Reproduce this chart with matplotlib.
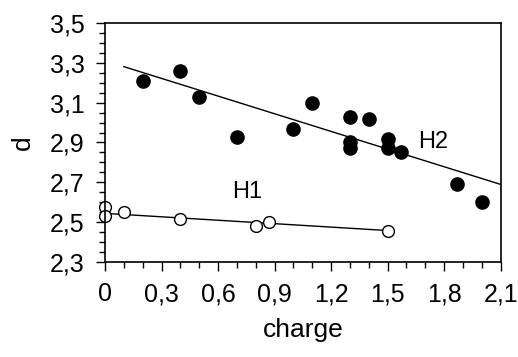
import matplotlib
matplotlib.use('Agg')
import matplotlib.pyplot as plt
from matplotlib.ticker import MultipleLocator, FuncFormatter

plt.rcParams['font.family'] = ['Liberation Sans', 'DejaVu Sans']

# H2 (filled)
h2_x = [0.2, 0.4, 0.5, 0.7, 1.0, 1.1, 1.3, 1.3, 1.3, 1.4, 1.5, 1.5, 1.57, 1.87, 2.0]
h2_y = [3.21, 3.26, 3.13, 2.93, 2.97, 3.10, 3.03, 2.90, 2.87, 3.02, 2.92, 2.87, 2.85, 2.69, 2.60]
h2_fit_x = [0.1, 2.1]
h2_fit_y = [3.28, 2.69]

# H1 (open)
h1_x = [0.0, 0.0, 0.1, 0.4, 0.8, 0.87, 1.5]
h1_y = [2.575, 2.532, 2.55, 2.516, 2.484, 2.504, 2.459]
h1_fit_x = [0.0, 1.5]
h1_fit_y = [2.545, 2.459]

xticks = [0, 0.3, 0.6, 0.9, 1.2, 1.5, 1.8, 2.1]
yticks = [2.3, 2.5, 2.7, 2.9, 3.1, 3.3, 3.5]


def comma(v, pos):
    return ('%g' % round(v, 2)).replace('.', ',')


fig = plt.figure(figsize=(5.18, 3.57), dpi=100)
ax = fig.add_axes([0.2027, 0.2653, 0.7639, 0.6711])

ax.plot(h2_fit_x, h2_fit_y, 'k-', lw=1.0)
ax.plot(h1_fit_x, h1_fit_y, 'k-', lw=1.0)
ax.plot(h2_x, h2_y, 'ko', ms=9.5, ls='none', clip_on=False)
ax.plot(h1_x, h1_y, 'o', mfc='white', mec='black', mew=1.0, ms=8.5, ls='none', clip_on=False)

ax.text(0.752, 2.654, 'H1', fontsize=17, ha='center', va='center')
ax.text(1.743, 2.904, 'H2', fontsize=17, ha='center', va='center')

ax.set_xlim(0, 2.1)
ax.set_ylim(2.3, 3.5)
ax.set_xticks(xticks)
ax.set_yticks(yticks)
ax.xaxis.set_minor_locator(MultipleLocator(0.1))
ax.yaxis.set_minor_locator(MultipleLocator(0.05))
ax.xaxis.set_major_formatter(FuncFormatter(comma))
ax.yaxis.set_major_formatter(FuncFormatter(comma))
ax.tick_params(which='major', direction='out', length=6.5, width=1.0, labelsize=18, pad=8)
ax.tick_params(which='minor', direction='out', length=4.5, width=1.0)

for s in ax.spines.values():
    s.set_linewidth(1.2)

ax.set_xlabel('charge', fontsize=19, labelpad=8)
ax.set_ylabel('d', fontsize=19, labelpad=11)

fig.savefig('out.png', dpi=100)
